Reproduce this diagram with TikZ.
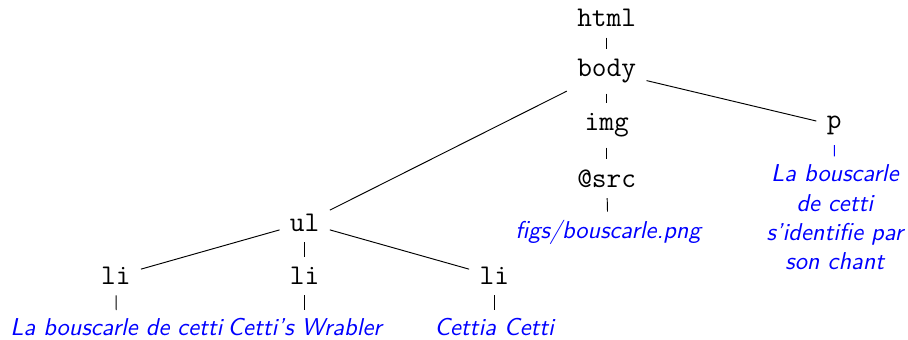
\documentclass[tikz,border=0pt]{standalone}
\usepackage{amsmath,amssymb}
\begin{document}
\begin{tikzpicture}[
    balise/.style={font=\large\ttfamily, inner sep=4.2pt},
    texte/.style={font=\sffamily\itshape\fontsize{10.25}{12.3}\selectfont, text=blue, align=center}]
        % Cadre de la figure
        \useasboundingbox (0,0) rectangle (13.41,-5.01);
        
        % Les balises de l'arbre
        \node[balise] (html) at (8.96,-0.27) {html};
        \node[balise] (body) at (8.96,-1.05) {body};
        \node[balise] (img)  at (8.96,-1.85) {img};
        \node[balise] (src)  at (8.96,-2.64) {@src};
        \node[balise] (p)    at (12.32,-1.85) {p};
        \node[balise] (ul)   at (4.50,-3.29) {ul};
        \node[balise] (lia)  at (1.71,-4.08) {li};
        \node[balise] (lib)  at (4.50,-4.08) {li};
        \node[balise] (lic)  at (7.30,-4.08) {li};
        
        % Les contenus texte (en bleu)
        \node[texte] (figs) at (8.98,-3.43) {figs/bouscarle.png};
        \node[texte] (ptxt) at (12.33,-3.21) {La bouscarle\\de cetti\\s'identifie par\\son chant};
        \node[texte] (txta) at (1.72,-4.83) {La bouscarle de cetti};
        \node[texte] (txtb) at (4.50,-4.83) {Cetti's Wrabler};
        \node[texte] (txtc) at (7.30,-4.83) {Cettia Cetti};
        
        % Les liens parent -- enfant
        \draw (html) -- (body);
        \draw (body) -- (img);
        \draw (body) -- (ul);
        \draw (body) -- (p);
        \draw (img) -- (src);
        \draw (src) -- (figs);
        \draw[blue] (p) -- (ptxt);
        \draw (ul) -- (lia);
        \draw (ul) -- (lib);
        \draw (ul) -- (lic);
        \draw (lia) -- (txta);
        \draw (lib) -- (txtb);
        \draw (lic) -- (txtc);
\end{tikzpicture}
\end{document}
